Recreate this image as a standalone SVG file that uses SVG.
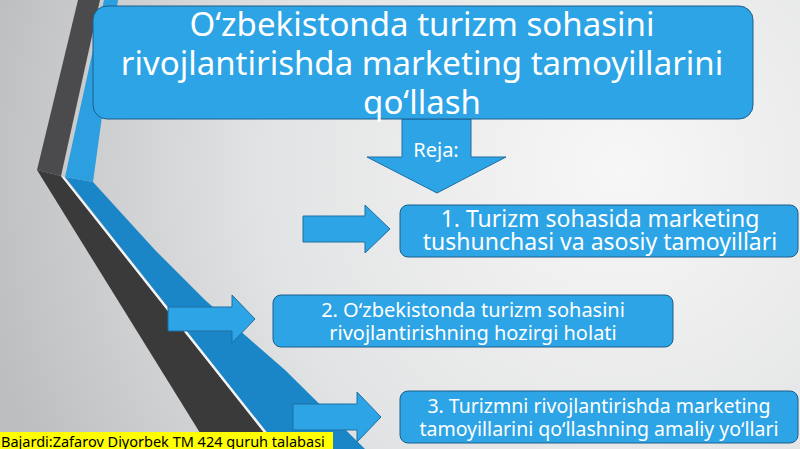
<svg xmlns="http://www.w3.org/2000/svg" width="800" height="449" viewBox="0 0 800 449">
<defs>
<radialGradient id="bg" cx="620" cy="170" r="650" gradientUnits="userSpaceOnUse">
<stop offset="0" stop-color="#f7f7f7"/>
<stop offset="0.55" stop-color="#e2e3e4"/>
<stop offset="1" stop-color="#bdbec0"/>
</radialGradient>
<style>
.box{fill:#2ca4e5;stroke:#1d5e8c;stroke-width:1}
.arr{fill:#2ca4e5;stroke:#1f6ea3;stroke-width:1}
.t{font-family:"Noto Sans","Open Sans","Liberation Sans",sans-serif;fill:#ffffff;text-anchor:middle}
.title{font-size:33px}
.i1{font-size:23px}
.i2{font-size:20px}
.i3{font-size:19.5px}
</style>
</defs>
<rect x="0" y="0" width="800" height="449" fill="url(#bg)"/>
<g id="decor">
<polygon points="78,0 100,0 61,176 37,170" fill="#4b4b4d"/>
<polygon points="37,170 61,176 277,449 210,449" fill="#3a3a3b"/>
<polygon points="61,176 64,177 281,449 277,449" fill="#f4f4f4"/>
<polygon points="104,0 118,0 93,182 65,177" fill="#2b9fe0"/>
<polygon points="65,177 93,182 155,250 205,300 285,370 365,449 280,449" fill="#1a86c7"/>
</g>
<g id="connectors">
<polygon class="arr" points="402,119 471,119 471,157 506,157 437,193 367,157 402,157"/>
<polygon class="arr" points="303,216 365,216 365,205 390,229 365,253 365,242 303,242"/>
<polygon class="arr" points="168,307 232,307 232,295 255,319 232,343 232,331 168,331"/>
<polygon class="arr" points="293,404 357,404 357,392 381,417 357,442 357,430 293,430"/>
<text class="t" x="436" y="157" font-size="20">Reja:</text>
</g>
<g id="title">
<rect class="box" x="93" y="6" width="660" height="113" rx="14"/>
<text class="t title" x="422" y="36">O‘zbekistonda turizm sohasini</text>
<text class="t title" x="422" y="75">rivojlantirishda marketing tamoyillarini</text>
<text class="t title" x="422" y="114">qo‘llash</text>
</g>
<g id="item1">
<rect class="box" x="400" y="205" width="398" height="52" rx="8"/>
<text class="t i1" x="600" y="227">1. Turizm sohasida marketing</text>
<text class="t i1" x="600" y="250">tushunchasi va asosiy tamoyillari</text>
</g>
<g id="item2">
<rect class="box" x="273" y="295" width="400" height="52" rx="8"/>
<text class="t i2" x="473" y="317">2. O‘zbekistonda turizm sohasini</text>
<text class="t i2" x="473" y="340">rivojlantirishning hozirgi holati</text>
</g>
<g id="item3">
<rect class="box" x="400" y="391" width="398" height="52" rx="8"/>
<text class="t i3" x="599" y="413">3. Turizmni rivojlantirishda marketing</text>
<text class="t i3" x="599" y="436">tamoyillarini qo‘llashning amaliy yo‘llari</text>
</g>
<g id="author">
<rect x="0" y="432" width="333" height="17" fill="#ffff00"/>
<text x="1" y="447" font-family="Noto Sans, Open Sans, Liberation Sans, sans-serif" font-size="14.5" fill="#000000">Bajardi:Zafarov Diyorbek TM 424 guruh talabasi</text>
</g>
</svg>
